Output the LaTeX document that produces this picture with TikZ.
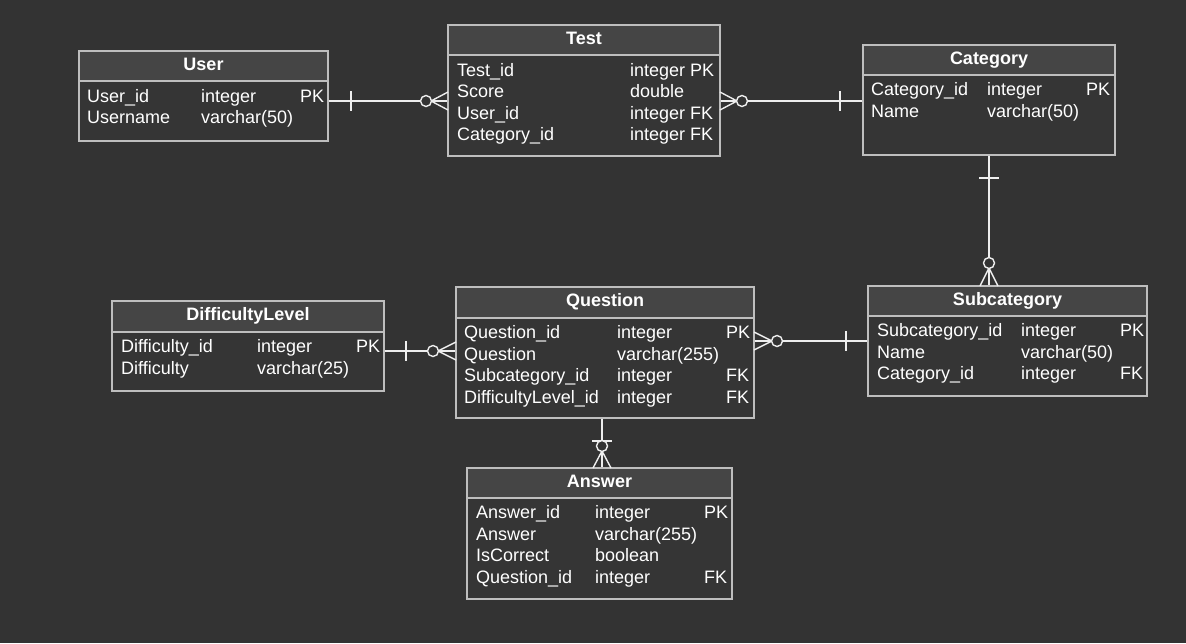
\documentclass[tikz,border=0pt]{standalone}
\usepackage{fontspec}
\setmainfont{Liberation Sans}
\usetikzlibrary{calc,fit}
\definecolor{bgc}{HTML}{333333}
\definecolor{headc}{HTML}{454545}
\definecolor{bodyc}{HTML}{353535}
\definecolor{borderc}{HTML}{BEBEBE}
\definecolor{linec}{HTML}{EEEEEE}
\newcommand{\ertable}[7]{%
  \fill[bodyc] (#2,#3) rectangle (#4,#5);
  \fill[headc] (#2,#3) rectangle (#4,#6);
  \node[tbox, fit={(#2,#3) (#4,#5)}] (#1) {};
  \coordinate (#1-hl) at (#2,#6);
  \coordinate (#1-hr) at (#4,#6);
  \draw[border] (#1-hl) -- (#1-hr);
  \node[ttl] (#1-title) at ({(#2+#4)/2},{#3+19.5}) {#7};
}
\newcommand{\errow}[8]{%
  \node[cell] (#1-a) at (#3,#2) {#4};
  \node[cell] (#1-b) at (#5,#2) {#6};
  \node[cell] (#1-c) at (#7,#2) {#8};
}
\begin{document}
\begin{tikzpicture}[x=1pt,y=-1pt,
  tbox/.style={draw=borderc, line width=1.3pt, inner sep=0pt},
  border/.style={draw=borderc, line width=1.3pt},
  ttl/.style={anchor=base, text=white, font=\fontsize{18}{21}\selectfont\bfseries, inner sep=0pt},
  cell/.style={anchor=base west, text=white, font=\fontsize{18}{21}\selectfont, inner sep=0pt},
  conn/.style={draw=linec, line width=1.4pt},
  ring/.style={draw=linec, fill=bgc, line width=1.4pt}]
\fill[bgc] (0,0) rectangle (1186,643);
\useasboundingbox (0,0) rectangle (1186,643);

% ---------- tables ----------
\ertable{user}{79}{51}{328}{141}{81}{User}
\errow{user1}{102}{87}{User\_id}{201}{integer}{300}{PK}
\errow{user2}{123.5}{87}{Username}{201}{varchar(50)}{300}{}

\ertable{test}{448}{25}{720}{156}{55}{Test}
\errow{test1}{76}{457}{Test\_id}{630}{integer PK}{700}{}
\errow{test2}{97.5}{457}{Score}{630}{double}{700}{}
\errow{test3}{119}{457}{User\_id}{630}{integer FK}{700}{}
\errow{test4}{140.5}{457}{Category\_id}{630}{integer FK}{700}{}

\ertable{cat}{863}{45}{1115}{155}{75}{Category}
\errow{cat1}{95.5}{871}{Category\_id}{987}{integer}{1086}{PK}
\errow{cat2}{117}{871}{Name}{987}{varchar(50)}{1086}{}

\ertable{diff}{112}{301}{384}{391}{332}{DifficultyLevel}
\errow{diff1}{352.5}{121}{Difficulty\_id}{257}{integer}{356}{PK}
\errow{diff2}{374}{121}{Difficulty}{257}{varchar(25)}{356}{}

\ertable{quest}{456}{287}{754}{418}{318}{Question}
\errow{quest1}{338.5}{464}{Question\_id}{617}{integer}{726}{PK}
\errow{quest2}{360}{464}{Question}{617}{varchar(255)}{726}{}
\errow{quest3}{381.5}{464}{Subcategory\_id}{617}{integer}{726}{FK}
\errow{quest4}{403}{464}{DifficultyLevel\_id}{617}{integer}{726}{FK}

\ertable{sub}{868}{286}{1147}{396}{316}{Subcategory}
\errow{sub1}{336.5}{877}{Subcategory\_id}{1021}{integer}{1120}{PK}
\errow{sub2}{358}{877}{Name}{1021}{varchar(50)}{1120}{}
\errow{sub3}{379.5}{877}{Category\_id}{1021}{integer}{1120}{FK}

\ertable{ans}{467}{468}{732}{599}{498}{Answer}
\errow{ans1}{518.5}{476}{Answer\_id}{595}{integer}{704}{PK}
\errow{ans2}{540}{476}{Answer}{595}{varchar(255)}{704}{}
\errow{ans3}{561.5}{476}{IsCorrect}{595}{boolean}{704}{}
\errow{ans4}{583}{476}{Question\_id}{595}{integer}{704}{FK}

% ---------- helper coordinates ----------
\coordinate (y1) at (0,101);
\coordinate (y4) at (0,351);
\coordinate (y5) at (0,341);
\coordinate (x3) at (989,0);
\coordinate (x6) at (602,0);

% User -- Test
\draw[conn] (user.east |- y1) -- (test.west |- y1);
\draw[conn] (351,91) -- (351,111);
\draw[conn] (448,92) -- (431,101) -- (448,110);
\draw[ring] (426,101) circle (5.5);

% Test -- Category
\draw[conn] (test.east |- y1) -- (cat.west |- y1);
\draw[conn] (720,92) -- (737,101) -- (720,110);
\draw[ring] (742,101) circle (5.5);
\draw[conn] (840,91) -- (840,111);

% Category -- Subcategory
\draw[conn] (cat.south -| x3) -- (sub.north -| x3);
\draw[conn] (979,178) -- (999,178);
\draw[conn] (980,286) -- (989,268) -- (998,286);
\draw[ring] (989,263) circle (5.5);

% DifficultyLevel -- Question
\draw[conn] (diff.east |- y4) -- (quest.west |- y4);
\draw[conn] (406,341) -- (406,361);
\draw[conn] (456,342) -- (438,351) -- (456,360);
\draw[ring] (433,351) circle (5.5);

% Question -- Subcategory
\draw[conn] (quest.east |- y5) -- (sub.west |- y5);
\draw[conn] (754,332) -- (772,341) -- (754,350);
\draw[ring] (777,341) circle (5.5);
\draw[conn] (846,331) -- (846,351);

% Question -- Answer
\draw[conn] (quest.south -| x6) -- (ans.north -| x6);
\draw[conn] (592,441) -- (612,441);
\draw[conn] (593,468) -- (602,451) -- (611,468);
\draw[ring] (602,446) circle (5.5);
\end{tikzpicture}
\end{document}
